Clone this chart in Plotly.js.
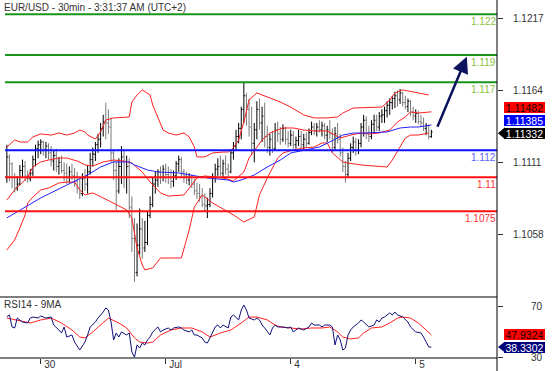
<!DOCTYPE html>
<html><head><meta charset="utf-8">
<script src="https://cdn.plot.ly/plotly-3.0.1.min.js"></script>
<style>html,body{margin:0;padding:0;background:#fff;}#chart{width:554px;height:371px;}</style>
</head><body><div id="chart"></div>
<script>
// ---- EUR/USD 30-min bars (bar index 0 = first bar shown) ----
const openP = [1.1100,1.1115,1.1110,1.1100,1.1092,1.1095,1.1105,1.1108,1.1101,1.1099,
 1.1103,1.1113,1.1121,1.1124,1.1126,1.1120,1.1123,1.1118,1.1112,1.1116,
 1.1108,1.1111,1.1105,1.1103,1.1100,1.1104,1.1101,1.1097,1.1092,1.1088,
 1.1099,1.1095,1.1104,1.1113,1.1117,1.1124,1.1128,1.1136,1.1141,1.1140,
 1.1137,1.1118,1.1105,1.1090,1.1108,1.1115,1.1100,1.1108,1.1078,1.1055,
 1.1030,1.1050,1.1062,1.1048,1.1052,1.1072,1.1080,1.1095,1.1098,1.1104,
 1.1100,1.1106,1.1102,1.1100,1.1097,1.1101,1.1110,1.1113,1.1104,1.1101,
 1.1098,1.1100,1.1095,1.1090,1.1088,1.1086,1.1080,1.1079,1.1080,1.1088,
 1.1100,1.1106,1.1108,1.1103,1.1110,1.1106,1.1104,1.1118,1.1123,1.1130,
 1.1136,1.1150,1.1160,1.1150,1.1137,1.1125,1.1135,1.1150,1.1140,1.1145,
 1.1130,1.1122,1.1128,1.1121,1.1135,1.1132,1.1128,1.1136,1.1128,1.1125,
 1.1131,1.1124,1.1127,1.1130,1.1124,1.1128,1.1125,1.1133,1.1137,1.1134,
 1.1137,1.1135,1.1138,1.1131,1.1135,1.1132,1.1122,1.1132,1.1128,1.1118,
 1.1108,1.1102,1.1114,1.1122,1.1126,1.1120,1.1125,1.1137,1.1142,1.1133,
 1.1130,1.1139,1.1142,1.1137,1.1145,1.1146,1.1149,1.1153,1.1155,1.1158,
 1.1160,1.1157,1.1162,1.1155,1.1152,1.1156,1.1148,1.1145,1.1147,1.1141,
 1.1140,1.1136,1.1138,1.1130];
const highP = [1.1124,1.1117,1.1111,1.1103,1.1101,1.1109,1.1113,1.1112,1.1105,1.1106,
 1.1116,1.1124,1.1127,1.1128,1.1127,1.1126,1.1125,1.1123,1.1120,1.1121,
 1.1115,1.1116,1.1111,1.1110,1.1108,1.1110,1.1107,1.1104,1.1099,1.1103,
 1.1106,1.1109,1.1118,1.1122,1.1126,1.1132,1.1140,1.1146,1.1155,1.1150,
 1.1144,1.1120,1.1112,1.1114,1.1123,1.1121,1.1116,1.1114,1.1086,1.1070,
 1.1066,1.1077,1.1070,1.1068,1.1075,1.1086,1.1100,1.1104,1.1106,1.1108,
 1.1109,1.1110,1.1108,1.1106,1.1105,1.1112,1.1116,1.1115,1.1106,1.1104,
 1.1103,1.1102,1.1099,1.1096,1.1095,1.1092,1.1088,1.1085,1.1092,1.1103,
 1.1110,1.1114,1.1116,1.1113,1.1116,1.1110,1.1120,1.1126,1.1135,1.1140,
 1.1152,1.1170,1.1162,1.1158,1.1152,1.1140,1.1156,1.1158,1.1152,1.1155,
 1.1138,1.1132,1.1134,1.1140,1.1141,1.1137,1.1139,1.1137,1.1134,1.1135,
 1.1134,1.1130,1.1135,1.1134,1.1132,1.1133,1.1136,1.1141,1.1140,1.1140,
 1.1142,1.1141,1.1140,1.1138,1.1142,1.1136,1.1137,1.1140,1.1132,1.1122,
 1.1112,1.1118,1.1125,1.1130,1.1129,1.1128,1.1140,1.1146,1.1145,1.1138,
 1.1142,1.1146,1.1146,1.1148,1.1150,1.1152,1.1156,1.1158,1.1160,1.1163,
 1.1164,1.1165,1.1163,1.1160,1.1158,1.1157,1.1152,1.1150,1.1149,1.1146,
 1.1144,1.1140,1.1139,1.1135];
const lowP = [1.1096,1.1097,1.1092,1.1089,1.1090,1.1094,1.1100,1.1097,1.1096,1.1097,
 1.1101,1.1108,1.1114,1.1117,1.1116,1.1114,1.1113,1.1108,1.1105,1.1104,
 1.1102,1.1103,1.1097,1.1095,1.1096,1.1098,1.1093,1.1088,1.1084,1.1086,
 1.1090,1.1088,1.1102,1.1108,1.1112,1.1118,1.1122,1.1130,1.1128,1.1132,
 1.1111,1.1098,1.1076,1.1088,1.1095,1.1092,1.1088,1.1070,1.1045,1.1023,
 1.1027,1.1043,1.1040,1.1045,1.1050,1.1070,1.1078,1.1088,1.1093,1.1095,
 1.1097,1.1096,1.1095,1.1092,1.1093,1.1098,1.1104,1.1100,1.1096,1.1095,
 1.1094,1.1092,1.1087,1.1084,1.1082,1.1078,1.1075,1.1070,1.1078,1.1085,
 1.1096,1.1101,1.1101,1.1100,1.1102,1.1101,1.1103,1.1113,1.1120,1.1125,
 1.1128,1.1140,1.1138,1.1130,1.1116,1.1111,1.1128,1.1135,1.1126,1.1122,
 1.1118,1.1116,1.1118,1.1120,1.1126,1.1124,1.1126,1.1124,1.1122,1.1123,
 1.1121,1.1121,1.1123,1.1121,1.1120,1.1122,1.1124,1.1131,1.1131,1.1130,
 1.1133,1.1130,1.1128,1.1126,1.1128,1.1118,1.1120,1.1125,1.1115,1.1104,
 1.1096,1.1100,1.1112,1.1118,1.1116,1.1117,1.1122,1.1130,1.1128,1.1126,
 1.1128,1.1133,1.1134,1.1134,1.1140,1.1140,1.1144,1.1146,1.1150,1.1151,
 1.1152,1.1154,1.1152,1.1150,1.1148,1.1145,1.1142,1.1140,1.1139,1.1137,
 1.1134,1.1131,1.1128,1.1129];
const closeP = [1.1115,1.1110,1.1100,1.1092,1.1095,1.1105,1.1108,1.1101,1.1099,1.1103,
 1.1113,1.1121,1.1124,1.1126,1.1120,1.1123,1.1118,1.1112,1.1116,1.1108,
 1.1111,1.1105,1.1103,1.1100,1.1104,1.1101,1.1097,1.1092,1.1088,1.1099,
 1.1095,1.1104,1.1113,1.1117,1.1124,1.1128,1.1136,1.1141,1.1140,1.1137,
 1.1118,1.1105,1.1090,1.1108,1.1115,1.1100,1.1108,1.1078,1.1055,1.1030,
 1.1050,1.1062,1.1048,1.1052,1.1072,1.1080,1.1095,1.1098,1.1104,1.1100,
 1.1106,1.1102,1.1100,1.1097,1.1101,1.1110,1.1113,1.1104,1.1101,1.1098,
 1.1100,1.1095,1.1090,1.1088,1.1086,1.1080,1.1079,1.1080,1.1088,1.1100,
 1.1106,1.1108,1.1103,1.1110,1.1106,1.1104,1.1118,1.1123,1.1130,1.1136,
 1.1150,1.1160,1.1150,1.1137,1.1125,1.1135,1.1150,1.1140,1.1145,1.1130,
 1.1122,1.1128,1.1121,1.1135,1.1132,1.1128,1.1136,1.1128,1.1125,1.1131,
 1.1124,1.1127,1.1130,1.1124,1.1128,1.1125,1.1133,1.1137,1.1134,1.1137,
 1.1135,1.1138,1.1131,1.1135,1.1132,1.1122,1.1132,1.1128,1.1118,1.1108,
 1.1102,1.1114,1.1122,1.1126,1.1120,1.1125,1.1137,1.1142,1.1133,1.1130,
 1.1139,1.1142,1.1137,1.1145,1.1146,1.1149,1.1153,1.1155,1.1158,1.1160,
 1.1157,1.1162,1.1155,1.1152,1.1156,1.1148,1.1145,1.1147,1.1141,1.1140,
 1.1136,1.1138,1.1130,1.11332];

// ---- Bollinger bands (read at bar indices) ----
const bbUpperIdx = [0,3,5,8,10,13,17,20,23,26,28,30,31,34,36,38,41,47,48,50,52,55,56,58,60,62,65,68,70,72,73,76,79,83,85,87,89,91,93,96,100,105,109,114,118,123,127,129,133,144,147,149,152,156,162];
const bbUpper = [1.11223,1.11275,1.1126,1.1126,1.11297,1.11319,1.11311,1.11326,1.11311,1.11326,1.11348,1.11334,1.11311,1.11282,1.11334,1.11422,1.11437,1.11444,1.11554,1.11606,1.11643,1.11606,1.11532,1.11437,1.11348,1.11326,1.11311,1.11326,1.11297,1.11223,1.1115,1.1115,1.11179,1.11186,1.11186,1.11216,1.11275,1.11407,1.11569,1.11621,1.11591,1.11554,1.11517,1.11459,1.11437,1.11437,1.11444,1.11473,1.1151,1.11517,1.11569,1.11621,1.11643,1.11628,1.11606];
const bbMidIdx = [0,3,5,8,10,13,16,20,23,27,30,33,37,41,45,48,52,55,59,62,68,73,76,83,87,91,93,96,98,101,104,106,110,114,119,123,126,128,132,136,139,143,147,150,153,155,158,163];
const bbMid = [1.10833,1.10907,1.10943,1.11002,1.11076,1.11113,1.11127,1.11142,1.11142,1.1112,1.11091,1.11083,1.11113,1.11127,1.1112,1.11105,1.11039,1.10965,1.10885,1.10862,1.1087,1.10995,1.1101,1.10995,1.10973,1.11039,1.11142,1.11223,1.11275,1.11326,1.11348,1.11363,1.11363,1.11348,1.11341,1.11341,1.11311,1.11289,1.11311,1.11326,1.11319,1.11326,1.11348,1.11407,1.11444,1.11481,1.11473,1.11482];
const bbLowerIdx = [0,3,5,7,8,10,13,16,20,23,26,28,30,33,37,41,44,46,48,49,50,52,53,56,59,62,67,70,72,75,79,87,91,95,97,100,102,104,106,110,114,118,121,123,125,129,131,136,141,146,148,151,153,155,158,162];
const bbLower = [1.10465,1.10539,1.10627,1.10723,1.10811,1.10855,1.10907,1.10921,1.10958,1.10965,1.10965,1.10907,1.1087,1.10885,1.10848,1.10811,1.10781,1.1076,1.10701,1.10597,1.1048,1.10355,1.10318,1.10333,1.10406,1.10406,1.10406,1.10612,1.10781,1.1087,1.10811,1.10723,1.10671,1.10708,1.1087,1.10995,1.11069,1.11142,1.11179,1.11201,1.11216,1.11223,1.11253,1.11253,1.11179,1.11113,1.11105,1.11091,1.11083,1.11076,1.11127,1.11223,1.11289,1.11311,1.11311,1.11326];
// ---- Blue moving average ----
const maIdx = [0,5,13,23,31,36,41,47,49,54,58,66,71,77,85,87,90,95,100,105,109,113,116,120,124,129,133,138,146,151,155,158,163];
const maVal = [1.10701,1.1076,1.10848,1.10943,1.11017,1.11076,1.11113,1.11113,1.11091,1.11054,1.11039,1.11032,1.11017,1.10995,1.1098,1.10965,1.1098,1.11017,1.11076,1.11127,1.11179,1.11194,1.11208,1.11223,1.1126,1.11311,1.11326,1.11326,1.11334,1.11363,1.1137,1.1137,1.11385];

// ---- RSI(14) and its 9-period MA ----
const rsiIdx = [0,1,2,3,4,5,6,8,9,10,12,13,15,17,18,20,21,22,23,25,26,28,30,31,32,34,35,37,38,39,40,41,42,43,44,46,47,48,49,50,51,52,53,54,55,56,58,59,60,62,63,64,66,67,68,70,71,72,73,75,76,77,78,80,81,82,83,85,86,87,89,90,91,92,93,95,96,97,98,99,101,102,103,104,106,108,109,110,112,114,116,117,118,120,121,122,124,125,126,127,128,129,130,131,132,133,135,136,137,138,139,141,142,143,144,145,147,148,149,150,152,154,155,157,159,160,162,163];
const rsiVal = [62.2,63.5,54.1,53.3,61.1,59.6,58,57.2,61.1,61.9,61.1,62.7,61.1,61.9,55.6,51.7,49.4,54.1,46.2,47.8,42.3,36,42.3,47.8,54.1,58,61.1,65.8,69,67.4,58,43.9,49.4,46.2,50.2,47.8,49.4,34.5,30.5,40,37.6,41.5,40,43.9,46.2,50.2,54.1,50.2,51.7,53.3,51.7,53.3,54.1,53.3,51.7,50.2,51.7,47.8,47.8,45.5,42.3,41.5,45.5,54.1,55.6,53.3,55.6,53.3,61.9,63.5,59.6,67.4,71.3,67.4,61.1,59.6,61.1,59.6,55.6,53.3,47.8,53.3,55.6,54.1,54.1,53.3,54.1,50.2,53.3,51.7,54.1,57.2,55.6,55.6,54.1,55.6,55.6,54.1,40,47.8,43.9,36,37.6,47.8,51.7,54.1,57.2,59.6,58,55.6,54.1,55.6,59.6,58,61.1,61.9,65.1,63.5,65.8,63.5,61.9,58,54.1,50.2,49.4,46.2,38.4,38.3302];
const rsiMaIdx = [0,4,9,13,17,21,25,28,30,33,36,39,43,46,49,51,54,56,59,63,67,71,75,78,82,86,90,93,96,100,103,105,109,113,117,121,124,127,129,132,135,137,140,144,147,150,152,155,158,160,163];
const rsiMaVal = [61.1,59.6,57.2,59.6,61.1,57.2,51.7,46.2,45.5,50.2,55.6,61.1,57.2,53.3,45.5,42.3,41.5,42.3,47.8,51.7,53.3,53.3,50.2,46.2,49.4,51.7,57.2,61.9,61.9,59.6,55.6,54.1,53.3,52.5,53.3,53.3,54.1,50.2,46.2,44.7,45.5,49.4,53.3,54.1,57.2,61.1,61.9,61.1,57.2,53.3,47.9324];

// ---- Levels, ticks, labels ----
const levels = [
  {v:1.122,  label:'1.122',  line:'#17961a', text:'#8cbf3c'},
  {v:1.119,  label:'1.119',  line:'#17961a', text:'#8cbf3c'},
  {v:1.117,  label:'1.117',  line:'#17961a', text:'#8cbf3c'},
  {v:1.112,  label:'1.112',  line:'#1010ff', text:'#6060ff'},
  {v:1.11,   label:'1.11',   line:'#ff1010', text:'#ff3030'},
  {v:1.1075, label:'1.1075', line:'#ff1010', text:'#ff3030'}
];
const priceTicks = [1.1058, 1.1111, 1.1164, 1.1217];
const priceTickText = ['1.1058','1.1111','1.1164','1.1217'];
const rsiTicks = [30, 70];
const dayTickIdx = [13, 61, 109, 157];
const dayTickText = ['30', 'Jul', '4', '5'];
const lastValues = {bbMid:1.11482, ma:1.11385, close:1.11332, rsiMa:47.9324, rsi:38.3302};
const trendArrow = {fromIdx:165.1, fromPrice:1.11361, toIdx:176.6, toPrice:1.11888};

const barIdx = openP.map((_, i) => i);
const FONT = 'Liberation Sans, Arial, sans-serif';

const traces = [
  {type:'ohlc', x:barIdx, open:openP, high:highP, low:lowP, close:closeP, xaxis:'x', yaxis:'y',
   increasing:{line:{color:'#000000', width:1}}, decreasing:{line:{color:'#7a7a7a', width:1}},
   tickwidth:0.45, hoverinfo:'skip', showlegend:false},
  {type:'scatter', mode:'lines', x:bbUpperIdx, y:bbUpper, line:{color:'#ff2020', width:1}, hoverinfo:'skip', showlegend:false},
  {type:'scatter', mode:'lines', x:bbMidIdx, y:bbMid, line:{color:'#ff2020', width:1}, hoverinfo:'skip', showlegend:false},
  {type:'scatter', mode:'lines', x:bbLowerIdx, y:bbLower, line:{color:'#ff2020', width:1}, hoverinfo:'skip', showlegend:false},
  {type:'scatter', mode:'lines', x:maIdx, y:maVal, line:{color:'#2020ff', width:1}, hoverinfo:'skip', showlegend:false},
  {type:'scatter', mode:'lines', x:rsiMaIdx, y:rsiMaVal, xaxis:'x', yaxis:'y2', line:{color:'#ff2020', width:1}, hoverinfo:'skip', showlegend:false},
  {type:'scatter', mode:'lines', x:rsiIdx, y:rsiVal, xaxis:'x', yaxis:'y2', line:{color:'#10107a', width:1}, hoverinfo:'skip', showlegend:false}
];

const SPLIT = 0.1704;
const shapes = [];
levels.forEach(l => shapes.push({type:'line', xref:'paper', yref:'y', x0:0, x1:1, y0:l.v, y1:l.v, line:{color:l.line, width:2}, layer:'above'}));
shapes.push({type:'line', xref:'paper', yref:'paper', x0:-0.0102, x1:1, y0:SPLIT, y1:SPLIT, line:{color:'#000', width:1}});
shapes.push({type:'line', xref:'paper', yref:'paper', x0:-0.0102, x1:1, y0:0, y1:0, line:{color:'#000', width:1}});
shapes.push({type:'line', xref:'paper', yref:'paper', x0:1, x1:1, y0:-0.05, y1:1, line:{color:'#000', width:1}});
shapes.push({type:'path', xref:'paper', xsizemode:'pixel', xanchor:1, yref:'y', ysizemode:'pixel', yanchor:lastValues.close,
  path:'M1,-1 L8,5 L8,-7 Z', fillcolor:'#000', line:{width:0}});
shapes.push({type:'path', xref:'paper', xsizemode:'pixel', xanchor:1, yref:'y2', ysizemode:'pixel', yanchor:lastValues.rsi,
  path:'M1,0 L8,5.5 L8,-5.5 Z', fillcolor:'#00007a', line:{width:0}});

const annotations = [];
levels.forEach(l => annotations.push({xref:'paper', yref:'y', x:1, y:l.v, xanchor:'right', yanchor:'middle', yshift:-7, xshift:1,
  text:l.label, showarrow:false, font:{family:FONT, size:10, color:l.text}}));
function box(val, yref, txt, bg, fg, yshift){
  return {xref:'paper', yref:yref, x:1.0559, y:val, xanchor:'center', yanchor:'middle', yshift:yshift,
    text:txt, showarrow:false, bgcolor:bg, width:40, height:10, borderpad:0.5, borderwidth:0,
    font:{family:FONT, size:10.5, color:fg}};
}
annotations.push(box(lastValues.bbMid, 'y', '1.11482', '#ff0000', '#200000', 4.3));
annotations.push(box(lastValues.ma, 'y', '1.11385', '#0000ff', '#ffffff', 4.5));
annotations.push(box(lastValues.close, 'y', '1.11332', '#000000', '#ffffff', -1));
annotations.push(box(lastValues.rsiMa, 'y2', '47.9324', '#ff0000', '#200000', 0.5));
annotations.push(box(lastValues.rsi, 'y2', '38.3302', '#00007a', '#ffffff', 0));
annotations.push({xref:'paper', yref:'paper', x:-0.0061, y:0.9804, xanchor:'left', yanchor:'middle',
  text:'EUR/USD - 30min - 3:31:37 AM (UTC+2)', showarrow:false, font:{family:FONT, size:10, color:'#333'}});
annotations.push({xref:'paper', yref:'paper', x:-0.0061, y:0.1494, xanchor:'left', yanchor:'middle',
  text:'RSI14 - 9MA', showarrow:false, font:{family:FONT, size:10, color:'#333'}});
annotations.push({xref:'x', yref:'y', x:trendArrow.toIdx, y:trendArrow.toPrice, axref:'x', ayref:'y',
  ax:trendArrow.fromIdx, ay:trendArrow.fromPrice, text:'', showarrow:true, arrowhead:2, arrowsize:1.3,
  arrowwidth:2.5, arrowcolor:'#0c145e', standoff:0});

const layout = {
  width:554, height:371, margin:{l:5, r:57, t:0, b:13, pad:0},
  paper_bgcolor:'#fff', plot_bgcolor:'#fff', showlegend:false,
  font:{family:FONT, size:10, color:'#333'},
  xaxis:{domain:[0,1], range:[-0.71, 188.2], anchor:'y2', tickmode:'array', tickvals:dayTickIdx, ticktext:dayTickText,
    ticks:'outside', ticklen:5, tickcolor:'#333', showgrid:false, zeroline:false, showline:false,
    ticklabelposition:'outside right', ticklabelstandoff:-3, ticklabelshift:3, tickfont:{family:FONT, size:10, color:'#333'},
    rangeslider:{visible:false}, fixedrange:true},
  yaxis:{domain:[SPLIT,1], range:[1.10119, 1.12305], side:'right', anchor:'x', tickmode:'array', tickvals:priceTicks, ticktext:priceTickText,
    ticks:'outside', ticklen:5, tickcolor:'#333', showgrid:false, zeroline:false, showline:false,
    tickfont:{family:FONT, size:10, color:'#333'}, ticklabelstandoff:8, fixedrange:true},
  yaxis2:{domain:[0,SPLIT], range:[29.76, 77.6], side:'right', anchor:'x', tickmode:'array', tickvals:rsiTicks, ticktext:['30','70'],
    ticks:'outside', ticklen:5, tickcolor:'#333', showgrid:false, zeroline:false, showline:false,
    tickfont:{family:FONT, size:10, color:'#333'}, ticklabelstandoff:26, fixedrange:true},
  shapes:shapes, annotations:annotations
};
Plotly.newPlot('chart', traces, layout, {displayModeBar:false, staticPlot:true});
</script></body></html>
